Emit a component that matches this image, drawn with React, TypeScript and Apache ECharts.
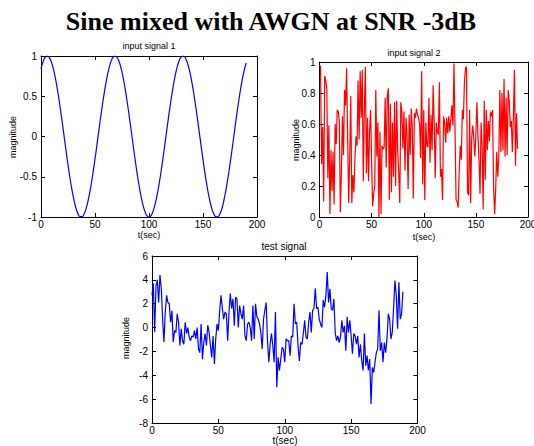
import React, { useEffect, useRef } from "react";
import * as echarts from "echarts";

const MAIN_TITLE = "Sine mixed with AWGN at SNR -3dB";
const SUB_TITLES = ["input signal 1", "input signal 2", "test signal"];
const X_NAME = "t(sec)";
const Y_NAME = "magnitude";

// input signal 1: sine, read every 2 samples
const SINE_STEP = 2;
const sineValues = [
  0.841, 0.932, 0.985, 1.0, 0.974, 0.909, 0.808, 0.675, 0.516, 0.335,
  0.141, -0.058, -0.256, -0.443, -0.612, -0.757, -0.872, -0.952, -0.994, -0.996,
  -0.959, -0.883, -0.773, -0.631, -0.465, -0.279, -0.083, 0.117, 0.312, 0.494,
  0.657, 0.794, 0.899, 0.968, 0.999, 0.989, 0.941, 0.855, 0.734, 0.585,
  0.412, 0.223, 0.025, -0.174, -0.366, -0.544, -0.699, -0.827, -0.922, -0.982,
  -1.0, -0.98, -0.918, -0.821, -0.691, -0.537, -0.358, -0.166, 0.033, 0.231,
  0.42, 0.592, 0.74, 0.859, 0.944, 0.991, 0.999, 0.967, 0.895, 0.789,
  0.65, 0.487, 0.303, 0.108, -0.092, -0.288, -0.473, -0.638, -0.779, -0.888,
  -0.961, -0.997, -0.993, -0.952, -0.873, -0.751, -0.604, -0.435, -0.249, -0.05,
  0.15, 0.344, 0.523, 0.683, 0.813, 0.913,
];

// input signal 2: noise, one value per sample
const noiseValues = [
  0.98, 0.97, 0.34, 0.58, 0.1, 0.91, 0.88, 0.83, 0.25, 0.59,
  0.02, 0.43, 0.17, 0.42, 0.08, 0.6, 0.47, 0.69, 0.68, 0.62,
  0.03, 0.29, 0.65, 0.4, 0.82, 0.72, 0.96, 0.5, 0.09, 0.39,
  0.78, 0.09, 0.27, 0.16, 0.38, 0.52, 0.46, 0.88, 0.5, 0.94,
  0.64, 0.95, 0.23, 0.68, 0.97, 0.28, 0.64, 0.23, 0.55, 0.69,
  0.35, 0.07, 0.15, 0.2, 0.82, 0.39, 0.61, 0.0, 0.55, 0.02,
  0.46, 0.44, 0.45, 0.77, 0.32, 0.78, 0.83, 0.11, 0.73, 0.16,
  0.61, 0.26, 0.74, 0.2, 0.75, 0.43, 0.29, 0.09, 0.74, 0.68,
  0.44, 0.68, 0.3, 0.64, 0.52, 0.18, 0.66, 0.4, 0.7, 0.58,
  0.12, 0.67, 0.64, 0.7, 0.66, 0.64, 0.6, 0.38,
  0.94, 0.21, 0.69, 0.11, 0.61, 0.46, 0.45, 0.77, 0.35, 0.66,
  0.43, 0.85, 0.62, 0.25, 0.61, 0.55, 0.53, 0.87, 0.26, 0.31,
  0.11, 0.65, 0.61, 0.48, 0.64, 0.54, 0.65, 0.55, 0.63, 0.72,
  0.59, 0.99, 0.57, 0.11, 0.1, 0.06, 0.29, 0.46, 0.37, 0.69,
  0.63, 0.87, 0.96, 0.97, 0.16, 0.14, 0.69, 0.09, 0.51, 0.59,
  0.51, 0.39, 0.53, 0.74, 0.52, 0.37, 0.15, 0.61, 0.46, 0.05,
  0.75, 0.24, 0.69, 0.43, 0.62, 0.49, 0.68, 0.65, 0.69, 0.19,
  0.02, 0.18, 0.42, 0.26, 0.39, 0.82, 0.42, 0.8, 0.43, 0.89,
  0.39, 0.77, 0.4, 0.82, 0.75, 0.58, 0.62, 0.42, 0.66, 0.95,
  0.33, 0.67, 0.44,
];

// test signal: one value per sample
const testValues = [
  2.7, 3.7, -0.4, 3.5, 4.0, 2.1, 4.4, 3.3, 0.7, -1.2,
  1.3, 2.7, 2.1, 2.0, 0.45, 1.4, -1.2, -0.25, -0.4, 1.15,
  0.45, -1.5, -0.1, -1.1, -1.4, 0.45, -0.5, 0.0, -0.8, -1.1,
  -0.7, -0.8, -0.25, -0.95, 0.0, -1.8, -2.1, 0.3, -2.65, -1.25,
  -0.5, -1.5, 0.2, -0.4, -1.5, -2.5, -0.7, -3.05, -0.95, 0.3,
  -0.25, 1.45, 2.7, 1.6, 0.7, 1.3, 1.15, -1.1, 1.3, 2.85,
  1.6, 2.4, 0.15, 2.55, 2.4, 0.0, 1.85, 1.15, 0.7, 1.85,
  -0.7, -1.1, 0.3, 0.45, 0.0, -1.1, 1.85, -0.95, 2.0, 0.9,
  0.7, 0.3, -0.4, -1.8, 0.7, 1.45, 2.1, -1.1, -2.9, -1.4,
  -0.5, -1.5, -2.9, 1.3, -5.0, -2.5, -3.6, -2.65, -1.65, -1.8,
  -2.9,
  -0.95, -1.1, -1.1, -2.35, -0.7, -0.8, 2.0, 0.3, 0.45, -1.5,
  -2.8, -1.25, -1.4, -0.5, 0.6, -0.8, -0.95, 0.45, 1.3, -0.4,
  1.45, 1.6, 3.3, 1.6, 1.7, 0.7, 0.3, 0.0, 2.3, 1.7,
  2.7, 4.65, 2.1, 3.25, 1.6, 1.45, 2.4, -0.4, -1.1, -0.7,
  -1.25, -0.8, 0.6, -0.4, 0.15, -1.95, 0.9, -0.4, 0.6, -0.7,
  -2.2, -0.5, -0.7, -1.4, -0.7, -2.5, -1.4, -2.8, -3.6, -0.5,
  -3.2, -2.35, -3.6, -2.65, -6.4, -3.35, -3.75, -2.9, -2.1, -1.8,
  1.45, -1.95, -1.25, -2.9, -1.25, -2.1, -0.95, 1.15, 0.7, -0.95,
  -0.4, 1.7, 3.95, 2.7, -0.1, 3.8, 0.7, 1.15, 3.0,
];

const X_RANGE = { min: 0, max: 200, interval: 50 };
const Y_RANGES = [
  { min: -1, max: 1, interval: 0.5 },
  { min: 0, max: 1, interval: 0.2 },
  { min: -8, max: 6, interval: 2 },
];

const SANS = "Liberation Sans";
const SERIF = "Liberation Serif";

const GRIDS = [
  { left: 41, top: 56, width: 216, height: 161 },
  { left: 319.5, top: 62, width: 208.5, height: 155 },
  { left: 152, top: 256, width: 265.5, height: 167 },
];

function axisPair(kind: "x" | "y", gridIndex: number, range: any) {
  const line = { show: true, onZero: false, lineStyle: { color: "#000", width: 1 } };
  const tick = { show: true, inside: true, length: 4, lineStyle: { color: "#000" } };
  const base = {
    type: "value",
    gridIndex,
    min: range.min,
    max: range.max,
    interval: range.interval,
    splitLine: { show: false },
    axisLine: line,
    axisTick: tick,
  };
  const main = {
    ...base,
    position: kind === "x" ? "bottom" : "left",
    axisLabel: {
      show: true,
      color: "#000",
      fontSize: 10,
      fontFamily: SANS,
      margin: kind === "x" ? 2 : 4,
    },
  };
  const other = {
    ...base,
    position: kind === "x" ? "top" : "right",
    axisLabel: { show: false },
  };
  return [main, other];
}

function textEl(text: string, x: number, y: number, size: number, opts: any = {}) {
  return {
    type: "text",
    x,
    y,
    rotation: opts.rotation || 0,
    style: {
      text,
      fill: "#000",
      fontSize: size,
      fontFamily: opts.family || SANS,
      fontWeight: opts.weight || "normal",
      textAlign: "center",
      textVerticalAlign: "middle",
      align: "center",
      verticalAlign: "middle",
    },
  };
}

export default function App() {
  const ref = useRef<HTMLDivElement>(null);
  useEffect(() => {
    document.body.style.margin = "0";
    document.body.style.overflow = "hidden";
    if (!ref.current) return;
    const chart = echarts.init(ref.current, null, { renderer: "svg" });

    const xAxes = [0, 1, 2].flatMap((g) => axisPair("x", g, X_RANGE));
    const yAxes = [0, 1, 2].flatMap((g) => axisPair("y", g, Y_RANGES[g]));

    const sineData = sineValues.map((v, i) => [i * SINE_STEP, v]);
    const noiseData = noiseValues.map((v, i) => [i, v]);
    const testData = testValues.map((v, i) => [i, v]);

    const lineSeries = (data: any, idx: number, color: string, smooth = false) => ({
      type: "line",
      data,
      xAxisIndex: idx * 2,
      yAxisIndex: idx * 2,
      showSymbol: false,
      smooth,
      lineStyle: { color, width: 1.2 },
      itemStyle: { color },
      silent: true,
    });

    chart.setOption({
      animation: false,
      backgroundColor: "#fff",
      grid: GRIDS.map((g) => ({ ...g, containLabel: false, outerBoundsMode: "none" })),
      xAxis: xAxes,
      yAxis: yAxes,
      series: [
        lineSeries(sineData, 0, "#0000ff", true),
        lineSeries(noiseData, 1, "#ff0000"),
        lineSeries(testData, 2, "#0000ff"),
      ],
      graphic: [
        textEl(MAIN_TITLE, 271, 21, 26, { family: SERIF, weight: "bold" }),
        textEl(SUB_TITLES[0], 149, 46, 9),
        textEl(SUB_TITLES[1], 414, 53, 9),
        textEl(SUB_TITLES[2], 284, 246, 10),
        textEl(X_NAME, 149, 235, 9),
        textEl(X_NAME, 424, 237, 9),
        textEl(X_NAME, 285, 440, 10),
        textEl(Y_NAME, 13, 137, 9, { rotation: Math.PI / 2 }),
        textEl(Y_NAME, 296, 140, 9, { rotation: Math.PI / 2 }),
        textEl(Y_NAME, 126, 338, 9, { rotation: Math.PI / 2 }),
      ],
    });
    return () => chart.dispose();
  }, []);
  return <div ref={ref} style={{ width: 534, height: 446 }} />;
}
